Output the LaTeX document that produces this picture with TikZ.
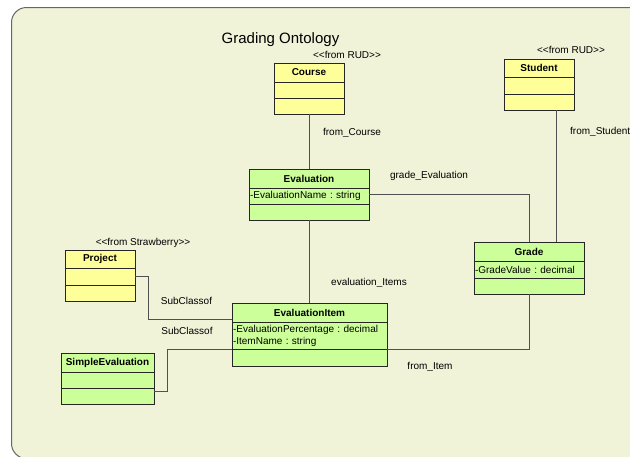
\documentclass[tikz,border=0pt]{standalone}
\usepackage{fontspec}
\setmainfont{Liberation Sans}
\usetikzlibrary{positioning}
\definecolor{panelbg}{RGB}{240,243,216}
\definecolor{rudyellow}{RGB}{255,255,153}
\definecolor{ontogreen}{RGB}{204,255,153}
\definecolor{linegray}{RGB}{80,80,80}
\frenchspacing
\begin{document}
\begin{tikzpicture}[x=1pt,y=-1pt,
  font=\fontsize{10}{12}\selectfont,
  head/.style={draw=black!85,line width=0.8pt,inner sep=0pt,outer sep=0pt,font=\fontsize{10}{12}\selectfont\bfseries},
  part/.style={draw=black!85,line width=0.8pt,inner xsep=1pt,inner ysep=0pt,outer sep=0pt,align=left},
  assoc/.style={draw=linegray,line width=0.9pt},
  lbl/.style={inner sep=0pt}]
  \useasboundingbox (0,0) rectangle (630,456);

  % Background panel
  \draw[draw=black!60,fill=panelbg,line width=1pt,rounded corners=15pt] (11.5,7.5) rectangle (660,458.5);
  \node[lbl] (title) at (280.5,40) {\fontsize{15}{18}\selectfont Grading Ontology};

  % Course
  \node[head,fill=rudyellow,minimum width=70pt,minimum height=19pt] (course) at (309,72.5) {Course};
  \node[part,fill=rudyellow,text width=68pt,minimum height=16pt,below=0pt of course] (course-a) {};
  \node[part,fill=rudyellow,text width=68pt,minimum height=16pt,below=0pt of course-a] (course-o) {};
  \node[lbl] (course-st) at (347,55) {<{}<from RUD>{}>};

  % Student
  \node[head,fill=rudyellow,minimum width=70pt,minimum height=18pt] (student) at (539,68) {Student};
  \node[part,fill=rudyellow,text width=68pt,minimum height=17pt,below=0pt of student] (student-a) {};
  \node[part,fill=rudyellow,text width=68pt,minimum height=16pt,below=0pt of student-a] (student-o) {};
  \node[lbl] (student-st) at (571,50) {<{}<from RUD>{}>};

  % Evaluation
  \node[head,fill=ontogreen,minimum width=120pt,minimum height=19pt] (eval) at (309,178.5) {Evaluation};
  \node[part,fill=ontogreen,text width=118pt,minimum height=16pt,below=0pt of eval] (eval-a) {-EvaluationName : string};
  \node[part,fill=ontogreen,text width=118pt,minimum height=16pt,below=0pt of eval-a] (eval-o) {};

  % Grade
  \node[head,fill=ontogreen,minimum width=110pt,minimum height=19pt] (grade) at (529,251.5) {Grade};
  \node[part,fill=ontogreen,text width=108pt,minimum height=17pt,below=0pt of grade] (grade-a) {-GradeValue : decimal};
  \node[part,fill=ontogreen,text width=108pt,minimum height=16pt,below=0pt of grade-a] (grade-o) {};

  % Project
  \node[head,fill=rudyellow,minimum width=70pt,minimum height=18pt] (proj) at (100,259) {Project};
  \node[part,fill=rudyellow,text width=68pt,minimum height=17pt,below=0pt of proj] (proj-a) {};
  \node[part,fill=rudyellow,text width=68pt,minimum height=16pt,below=0pt of proj-a] (proj-o) {};
  \node[lbl] (proj-st) at (143,243) {<{}<from Strawberry>{}>};

  % EvaluationItem
  \node[head,fill=ontogreen,minimum width=155pt,minimum height=19pt] (item) at (309.5,312.5) {EvaluationItem};
  \node[part,fill=ontogreen,text width=153pt,minimum height=27pt,below=0pt of item] (item-a) {-EvaluationPercentage : decimal\\-ItemName : string};
  \node[part,fill=ontogreen,text width=153pt,minimum height=17pt,below=0pt of item-a] (item-o) {};

  % SimpleEvaluation
  \node[head,fill=ontogreen,minimum width=93pt,minimum height=19pt] (simp) at (107.5,362.5) {SimpleEvaluation};
  \node[part,fill=ontogreen,text width=91pt,minimum height=16pt,below=0pt of simp] (simp-a) {};
  \node[part,fill=ontogreen,text width=91pt,minimum height=16pt,below=0pt of simp-a] (simp-o) {};

  % Associations
  \draw[assoc] (course-o.south) -- (eval.north);
  \draw[assoc] ([xshift=17pt]student-o.south) -- ([xshift=27pt]grade.north);
  \draw[assoc] ([yshift=2pt]eval-a.east) -| (grade.north);
  \draw[assoc] (eval-o.south) -- (eval-o.south |- item.north);
  \draw[assoc] (proj-a.east) -| ([xshift=-84pt,yshift=-6.5pt]item.west) -- ([yshift=-6.5pt]item.west);
  \draw[assoc] ([yshift=5pt]simp-o.east) -| ([xshift=-65pt]item-o.north west) -- (item-o.north west);
  \draw[assoc] (item-o.north east) -| (grade-o.south);

  % Labels
  \node[lbl] (lbl-course) at (352,133) {from\_Course};
  \node[lbl,anchor=west] (lbl-student) at (570,132) {from\_Student};
  \node[lbl] (lbl-grade) at (429,176) {grade\_Evaluation};
  \node[lbl] (lbl-items) at (369,283) {evaluation\_Items};
  \node[lbl] (lbl-sub1) at (186.5,301) {SubClassof};
  \node[lbl] (lbl-sub2) at (187,331) {SubClassof};
  \node[lbl] (lbl-item) at (430,367) {from\_Item};
\end{tikzpicture}
\end{document}
